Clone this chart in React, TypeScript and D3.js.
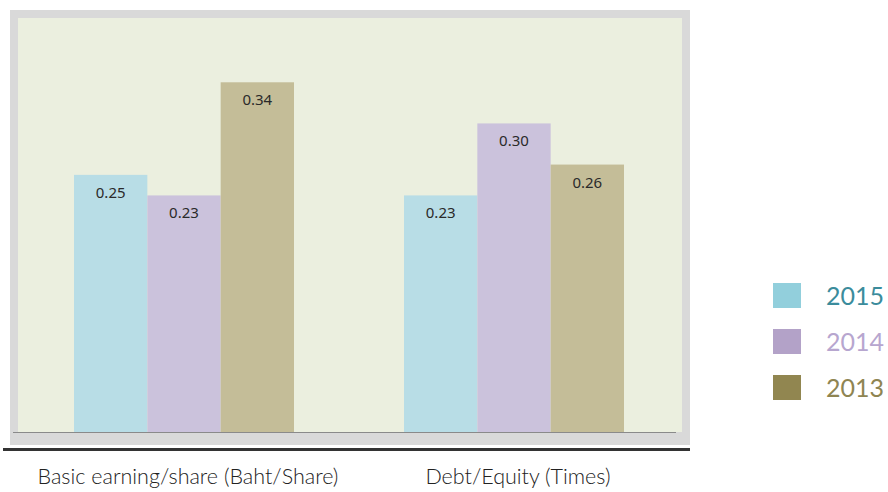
import React from 'react'
import * as d3 from 'd3'

const categories = ['Basic earning/share (Baht/Share)', 'Debt/Equity (Times)']
const years = ['2015', '2014', '2013']
const values2015 = [0.25, 0.23]
const values2014 = [0.23, 0.30]
const values2013 = [0.34, 0.26]
const seriesValues = [values2015, values2014, values2013]

const barColors = ['#b8dde6', '#cbc2dc', '#c4bd98']
const legendSwatch = ['#92cfdc', '#b3a2c8', '#918650']
const legendText = ['#3b8c9c', '#b7a6cf', '#8f8552']

const W = 888
const H = 492
const baseY = 432

export default function App() {
  const x0 = d3.scaleBand<string>()
    .domain(categories)
    .range([19, 679])
    .paddingInner(1 / 3)
    .paddingOuter(1 / 6)

  const x1 = d3.scaleBand<string>()
    .domain(years)
    .range([0, x0.bandwidth()])

  const y = d3.scaleLinear()
    .domain([0, 0.4025])
    .range([baseY, 18])

  return (
    <svg width={W} height={H} style={{ position: 'absolute', left: 0, top: 0 }}>
      <rect x={0} y={0} width={W} height={H} fill="#ffffff" />
      {/* frame */}
      <rect x={10} y={10} width={680} height={435} fill="#d9d9d9" />
      <rect x={18} y={18} width={664} height={414} fill="#ebefdf" />

      {categories.map((c, ci) => (
        <g key={c} transform={`translate(${x0(c)},0)`}>
          {years.map((yr, si) => {
            const v = seriesValues[si][ci]
            const bx = x1(yr) as number
            return (
              <g key={yr}>
                <rect x={bx} y={y(v)} width={x1.bandwidth()} height={baseY - y(v)} fill={barColors[si]} />
                <text
                  x={bx + x1.bandwidth() / 2}
                  y={y(v) + 23}
                  textAnchor="middle"
                  fontFamily="'Noto Sans', sans-serif"
                  fontSize={15}
                  fill="#2a2a2a"
                >
                  {v.toFixed(2)}
                </text>
              </g>
            )
          })}
        </g>
      ))}

      <line x1={13} x2={676} y1={baseY + 0.5} y2={baseY + 0.5} stroke="#8a8a8a" strokeWidth={1} />
      <line x1={3} x2={690} y1={449.5} y2={449.5} stroke="#333333" strokeWidth={3} />

      {categories.map(c => (
        <text
          key={c}
          x={(x0(c) as number) + x0.bandwidth() / 2 + 4}
          y={484}
          textAnchor="middle"
          fontFamily="'Lato', sans-serif"
          fontWeight={300}
          fontSize={21.5}
          fill="#222222"
        >
          {c}
        </text>
      ))}

      {years.map((yr, i) => (
        <g key={yr} transform={`translate(773,${283 + i * 46})`}>
          <rect x={0} y={0} width={28} height={25} fill={legendSwatch[i]} />
          <text x={53} y={22} fontFamily="'Lato', sans-serif" fontSize={25} fill={legendText[i]}>
            {yr}
          </text>
        </g>
      ))}
    </svg>
  )
}
